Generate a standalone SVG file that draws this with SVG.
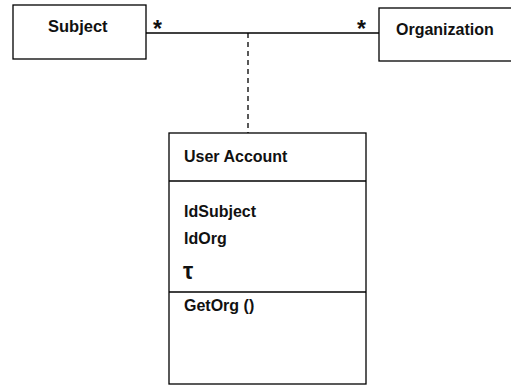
<svg xmlns="http://www.w3.org/2000/svg" width="511" height="385" viewBox="0 0 511 385">
<style>
.box{fill:#fff;stroke:#000;stroke-width:1.3}
.t{font-family:"Liberation Sans",Arial,sans-serif;font-weight:bold;font-size:16px;fill:#111}
.ast{font-family:"Liberation Sans",Arial,sans-serif;font-weight:bold;font-size:23px;fill:#111}
.ln{stroke:#000;stroke-width:1.3;fill:none}
</style>
<rect width="511" height="385" fill="#fff"/>
<g id="connectors">
<line class="ln" x1="146" y1="33" x2="379" y2="33"/>
<line class="ln" x1="248" y1="33" x2="248" y2="133" stroke-dasharray="5,4"/>
<text class="ast" x="153" y="37">*</text>
<text class="ast" x="357" y="37">*</text>
</g>
<g id="subject">
<rect class="box" x="13" y="5" width="133" height="54"/>
<text class="t" x="48" y="32" style="font-size:16.5px">Subject</text>
</g>
<g id="organization">
<rect class="box" x="379" y="8" width="134" height="53"/>
<text class="t" x="396" y="35">Organization</text>
</g>
<g id="user-account">
<rect class="box" x="169" y="133" width="197" height="251"/>
<line class="ln" x1="169" y1="181" x2="366" y2="181"/>
<line class="ln" x1="169" y1="292" x2="366" y2="292"/>
<text class="t" x="184" y="162">User Account</text>
<text class="t" x="184" y="217">IdSubject</text>
<text class="t" x="184" y="244">IdOrg</text>
<text class="t" x="183" y="279" style="font-size:23px">τ</text>
<text class="t" x="184" y="311">GetOrg ()</text>
</g>
</svg>
